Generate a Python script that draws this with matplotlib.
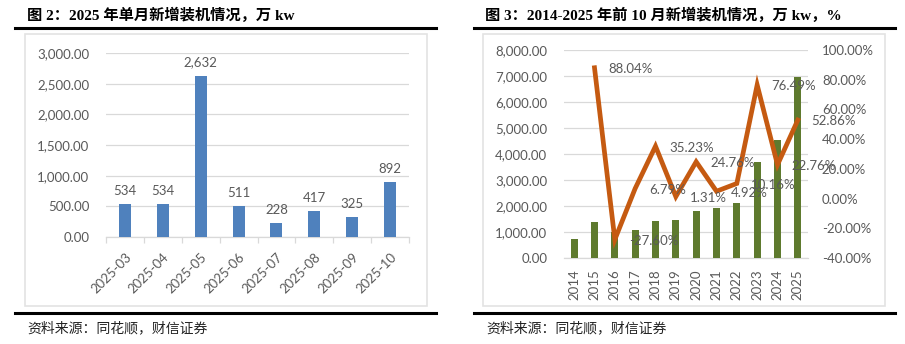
import matplotlib
matplotlib.use("Agg")
import matplotlib.pyplot as plt
from matplotlib.patches import Rectangle
from matplotlib.lines import Line2D
from matplotlib.ticker import FuncFormatter, FixedLocator
import numpy as np

plt.rcParams['font.family'] = ['Lato', 'Noto Sans CJK SC', 'DejaVu Sans']

# left chart data: monthly new installations 2025 (10k kW)
months = ['2025-03', '2025-04', '2025-05', '2025-06', '2025-07', '2025-08', '2025-09', '2025-10']
monthly_add = [534, 534, 2632, 511, 228, 417, 325, 892]

# right chart data: Jan-Oct new installations and YoY growth
years = ['2014', '2015', '2016', '2017', '2018', '2019', '2020', '2021', '2022', '2023', '2024', '2025']
ytd_add = [731, 1374, 995, 1063, 1437, 1456, 1816, 1905, 2099, 3705, 4548, 6952]
yoy_pct = [np.nan, 88.04, -27.60, 6.79, 35.23, 1.31, 24.76, 4.92, 10.16, 76.49, 22.76, 52.86]

W, H = 905, 344
fig = plt.figure(figsize=(W / 100, H / 100), dpi=100)

grey = '#595959'
grid_c = '#D9D9D9'
title_font = ['Liberation Serif', 'Noto Sans CJK SC']
fs = 9.5


def fx(px):
    return px / W


def fy(py):
    return 1 - py / H


# frames, rules, titles and sources
for x0, x1 in [(25, 427), (483, 885)]:
    fig.patches.append(Rectangle((fx(x0), fy(306)), fx(x1 - x0), (306 - 34) / H,
                                 transform=fig.transFigure, fill=False,
                                 edgecolor='#E3E3E3', lw=1.2))
for x0, x1 in [(15, 436), (474, 895)]:
    for yy in (28, 313):
        fig.lines.append(Line2D([fx(x0), fx(x1)], [fy(yy), fy(yy)],
                                transform=fig.transFigure, color='black', lw=2.2))

fig.text(fx(27), fy(15), '图 2：2025 年单月新增装机情况，万 kw', family=title_font,
         weight='bold', fontsize=11, va='center', ha='left')
fig.text(fx(485), fy(15), '图 3：2014-2025 年前 10 月新增装机情况，万 kw，%', family=title_font,
         weight='bold', fontsize=11, va='center', ha='left')
for x in (27, 486):
    fig.text(fx(x), fy(328), '资料来源：同花顺，财信证券', family=['Noto Sans CJK SC'],
             fontsize=10, style='italic', va='center', ha='left', color='#222222')

# ---- left chart
ax1 = fig.add_axes([fx(106), fy(237), fx(409 - 106), (237 - 53) / H])
x = np.arange(len(months))
bars = ax1.bar(x, monthly_add, width=0.32, color='#4F81BD', zorder=3)
for xi, v in zip(x, monthly_add):
    ax1.annotate(f'{v:,}', (xi, v), xytext=(0, 5), textcoords='offset points',
                 ha='center', va='bottom', fontsize=fs, color=grey)
ax1.set_xlim(-0.5, len(months) - 0.5)
ax1.set_ylim(0, 3000)
ax1.set_yticks(np.arange(0, 3001, 500))
ax1.yaxis.set_major_formatter(FuncFormatter(lambda v, p: f'{v:,.2f}'))
ax1.yaxis.grid(True, color=grid_c, lw=0.9, zorder=0)
ax1.set_xticks(x)
ax1.set_xticklabels(months, rotation=45, ha='right', rotation_mode='anchor')
ax1.xaxis.set_minor_locator(FixedLocator(np.arange(-0.5, len(months), 1)))
ax1.tick_params(axis='x', which='major', length=0, pad=10, labelsize=fs, labelcolor=grey)
ax1.tick_params(axis='x', which='minor', length=4, color=grid_c, width=0.9)
ax1.tick_params(axis='y', length=0, pad=12, labelsize=fs, labelcolor=grey)
for s in ('top', 'right', 'left'):
    ax1.spines[s].set_visible(False)
ax1.spines['bottom'].set_color(grid_c)
ax1.spines['bottom'].set_linewidth(0.9)
ax1.patch.set_alpha(0)

# ---- right chart
ax2 = fig.add_axes([fx(564), fy(258), fx(808 - 564), (258 - 50) / H])
xr = np.arange(len(years))
ax2.bar(xr, ytd_add, width=0.36, color='#5E7A2E', zorder=3)
ax2.set_xlim(-0.5, len(years) - 0.5)
ax2.set_ylim(0, 8000)
ax2.set_yticks(np.arange(0, 8001, 1000))
ax2.yaxis.set_major_formatter(FuncFormatter(lambda v, p: f'{v:,.2f}'))
ax2.yaxis.grid(True, color=grid_c, lw=0.9, zorder=0)
ax2.set_xticks(xr)
ax2.set_xticklabels(years, rotation=90, ha='center', va='top')
ax2.tick_params(axis='x', length=0, pad=8, labelsize=fs, labelcolor=grey)
ax2.tick_params(axis='y', length=0, pad=12, labelsize=fs, labelcolor=grey)
for s in ('top', 'right', 'left'):
    ax2.spines[s].set_visible(False)
ax2.spines['bottom'].set_color(grid_c)
ax2.spines['bottom'].set_linewidth(0.9)

ax3 = ax2.twinx()
ax3.plot(xr, yoy_pct, color='#C55A11', lw=3.4, zorder=4, solid_joinstyle='miter')
for xi, v in zip(xr, yoy_pct):
    if np.isnan(v):
        continue
    ax3.annotate(f'{v:.2f}%', (xi, v), xytext=(10, -1), textcoords='offset points',
                 ha='left', va='center', fontsize=fs, color=grey, zorder=5)
ax3.set_ylim(-40, 100)
ax3.set_yticks(np.arange(-40, 101, 20))
ax3.yaxis.set_major_formatter(FuncFormatter(lambda v, p: f'{v:.2f}%'))
ax3.tick_params(axis='y', length=0, pad=10, labelsize=fs, labelcolor=grey)
for s in ax3.spines.values():
    s.set_visible(False)

fig.savefig('out.png', dpi=100)
